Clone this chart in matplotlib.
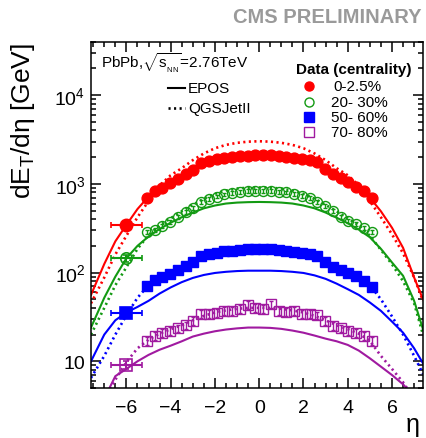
import matplotlib
matplotlib.use('Agg')
import matplotlib.pyplot as plt
from matplotlib.ticker import LogLocator, NullFormatter, MultipleLocator

plt.rcParams['font.family'] = ['Liberation Sans', 'DejaVu Sans']
plt.rcParams['mathtext.fontset'] = 'custom'
plt.rcParams['mathtext.rm'] = 'Liberation Sans'
plt.rcParams['mathtext.it'] = 'Liberation Sans:italic'
plt.rcParams['mathtext.bf'] = 'Liberation Sans:bold'

# data points (|eta| < 5.2)
eta = [-5.075, -4.725, -4.375, -4.025, -3.675, -3.325, -2.975, -2.625, -2.275, -1.925,
       -1.575, -1.225, -0.875, -0.525, -0.175, 0.175, 0.525, 0.875, 1.225, 1.575,
       1.925, 2.275, 2.625, 2.975, 3.325, 3.675, 4.025, 4.375, 4.725, 5.075]
c0_2p5 = [690, 840, 900, 1030, 1140, 1290, 1450, 1700, 1820, 1890,
          1960, 2020, 2060, 2080, 2100, 2100, 2090, 2070, 2030, 1980,
          1910, 1840, 1760, 1480, 1300, 1160, 1040, 930, 830, 690]
c20_30 = [287, 305, 335, 375, 425, 480, 540, 620, 670, 720,
          760, 790, 810, 825, 830, 830, 825, 815, 800, 770,
          730, 690, 630, 560, 490, 420, 385, 350, 320, 285]
c50_60 = [70, 82, 89, 97, 106, 118, 130, 155, 162, 168,
          173, 177, 180, 183, 184, 184, 182, 180, 176, 172,
          166, 160, 152, 130, 116, 106, 98, 91, 81, 68]
c70_80 = [17, 19.5, 21, 22, 23.5, 25.5, 28.6, 34, 34, 35,
          37, 37, 39, 43, 40, 39, 44, 37, 36, 37,
          34, 34, 33, 28.6, 25, 23.5, 22, 21, 19.4, 17]
rel_err = [0.04, 0.05, 0.06, 0.10]

# CASTOR point
castor_eta = -6.0
castor_xerr = 0.7
castor_val = [340, 145, 35, 9.1]
castor_err = [28, 13, 3.5, 0.9]

# model curves
eta_m = [-7.6, -7.0, -6.5, -6.0, -5.5, -5.0, -4.5, -4.0, -3.5, -3.0, -2.5, -2.0, -1.5, -1.0, -0.5,
         0.0, 0.5, 1.0, 1.5, 2.0, 2.5, 3.0, 3.5, 4.0, 4.5, 5.0, 5.5, 6.0, 6.5, 7.0, 7.4]
epos = [
    [56, 125, 225, 345, 520, 720, 900, 1080, 1270, 1480, 1680, 1840, 1950, 2020, 2060,
     2070, 2060, 2020, 1950, 1840, 1680, 1480, 1260, 1050, 870, 700, 490, 320, 190, 88, 50],
    [24, 52, 90, 145, 200, 255, 310, 365, 420, 475, 530, 570, 600, 615, 622,
     625, 622, 615, 600, 570, 530, 475, 415, 360, 305, 250, 185, 130, 92, 48, 23],
    [10, 20, 29, 35.5, 41, 48, 58, 68, 78, 87, 94, 99, 102, 104, 105,
     105, 105, 104, 102, 99, 93, 85, 75, 65, 56, 46, 37, 28, 21, 14, 9.5],
    [2.6, 3.8, 6.8, 8.2, 10, 11.8, 13.5, 15, 16.8, 19, 20.5, 21.8, 22.8, 23.5, 24,
     24, 23.8, 23.2, 22.2, 21, 19.5, 18, 16.8, 15.3, 13.2, 10.8, 8.7, 7.0, 5.5, 4.0, 2.8],
]
qgsjet = [
    [45, 88, 160, 260, 420, 640, 960, 1250, 1500, 1850, 2200, 2520, 2750, 2900, 2990,
     3020, 2990, 2900, 2750, 2520, 2200, 1850, 1500, 1250, 960, 640, 420, 270, 165, 88, 48],
    [20, 40, 72, 115, 185, 265, 340, 410, 490, 580, 680, 770, 840, 885, 905,
     910, 905, 885, 840, 770, 680, 580, 490, 410, 340, 260, 180, 124, 80, 45, 20],
    [6.5, 11.5, 20, 33, 52, 72, 88, 102, 117, 132, 148, 162, 172, 179, 183,
     184, 183, 179, 172, 162, 148, 132, 117, 102, 88, 72, 50, 32, 20, 11.5, 7.2],
    [2.4, 3.8, 6.2, 9.8, 14, 17.5, 20.5, 23, 25.5, 29, 32.5, 35.5, 37.5, 39, 40,
     40, 40, 39, 37.5, 35.5, 32.5, 29, 25.5, 23, 20.5, 17, 11.5, 8.2, 5.8, 3.8, 2.6],
]

series = [c0_2p5, c20_30, c50_60, c70_80]
labels = ['0-2.5%', '20- 30%', '50- 60%', '70- 80%']
colors = ['#ff0000', '#139a13', '#0000ff', '#a01aa0']
markers = ['o', 'o', 's', 's']
filled = [True, False, True, False]
msize = [7.8, 7.2, 7.2, 7.2]

fig = plt.figure(figsize=(4.27, 4.39), dpi=100)
ax = fig.add_axes([0.2131, 0.1139, 0.7775, 0.7888])

for i in range(4):
    c = colors[i]
    ax.plot(eta_m, epos[i], '-', color=c, lw=1.5)
    ax.plot(eta_m, qgsjet[i], color=c, lw=1.9, linestyle=(0, (0.8, 1.3)))
    fc = c if filled[i] else 'none'
    errs = [v * rel_err[i] for v in series[i]]
    ax.errorbar(eta, series[i], yerr=errs, fmt=markers[i], color=c, mfc=fc, mec=c,
                ms=msize[i], mew=1.0, elinewidth=1.0, capsize=1.5, zorder=3)
    ax.errorbar([castor_eta], [castor_val[i]], xerr=castor_xerr, yerr=castor_err[i],
                fmt=markers[i], color=c, mfc=fc, mec=c, ms=msize[i] + 1, mew=1.2,
                elinewidth=1.5, capsize=2, zorder=3)

ax.set_yscale('log')
ax.set_xlim(-7.6, 7.4)
ax.set_ylim(5, 4e4)
ax.set_yticks([10, 100, 1000, 10000])
ax.set_yticklabels(['10', '$10^{2}$', '$10^{3}$', '$10^{4}$'])
ax.yaxis.set_minor_locator(LogLocator(base=10, subs=range(2, 10)))
ax.yaxis.set_minor_formatter(NullFormatter())
ax.xaxis.set_major_locator(MultipleLocator(2))
ax.xaxis.set_minor_locator(MultipleLocator(0.5))
ax.tick_params(which='both', direction='in', top=True, right=True, width=1.1)
ax.tick_params(which='major', length=7, labelsize=14)
ax.tick_params(axis='x', which='major', pad=8)
ax.tick_params(axis='y', which='major', pad=4)
ax.tick_params(which='minor', length=3.8)
for s in ax.spines.values():
    s.set_linewidth(1.1)

ax.set_ylabel(r'dE$_{\mathrm{T}}$/dη [GeV]', fontsize=19)
ax.yaxis.set_label_coords(-0.163, 0.775)
fig.text(0.967, 0.032, 'η', fontsize=18, ha='center', va='center')
fig.text(0.988, 0.960, 'CMS PRELIMINARY', fontsize=14.5, fontweight='bold',
         color='#9a9a9a', ha='right', va='center')

# annotations / legend
ax.text(0.03, 0.941, r'PbPb,$\sqrt{\mathrm{s}_{_{\mathrm{NN}}}}$=2.76TeV', transform=ax.transAxes,
        fontsize=11, va='center')
ax.plot([0.232, 0.283], [0.866, 0.866], '-', color='black', lw=1.5, transform=ax.transAxes)
ax.text(0.292, 0.866, 'EPOS', transform=ax.transAxes, fontsize=11, va='center')
ax.plot([0.232, 0.283], [0.808, 0.808], color='black', lw=1.9, linestyle=(0, (0.8, 1.3)),
        transform=ax.transAxes)
ax.text(0.292, 0.808, 'QGSJetII', transform=ax.transAxes, fontsize=11, va='center')
ax.text(0.792, 0.921, 'Data (centrality)', transform=ax.transAxes, fontsize=11,
        fontweight='bold', ha='center', va='center')
leg_y = [0.872, 0.826, 0.783, 0.739]
for i in range(4):
    fc = colors[i] if filled[i] else 'none'
    ax.plot([0.657], [leg_y[i]], markers[i], color=colors[i], mfc=fc, mec=colors[i],
            ms=6.5, mew=1.0, transform=ax.transAxes)
    ax.text(0.722 if i else 0.731, leg_y[i], labels[i], transform=ax.transAxes,
            fontsize=11, va='center')

fig.savefig('out.png', dpi=100)
